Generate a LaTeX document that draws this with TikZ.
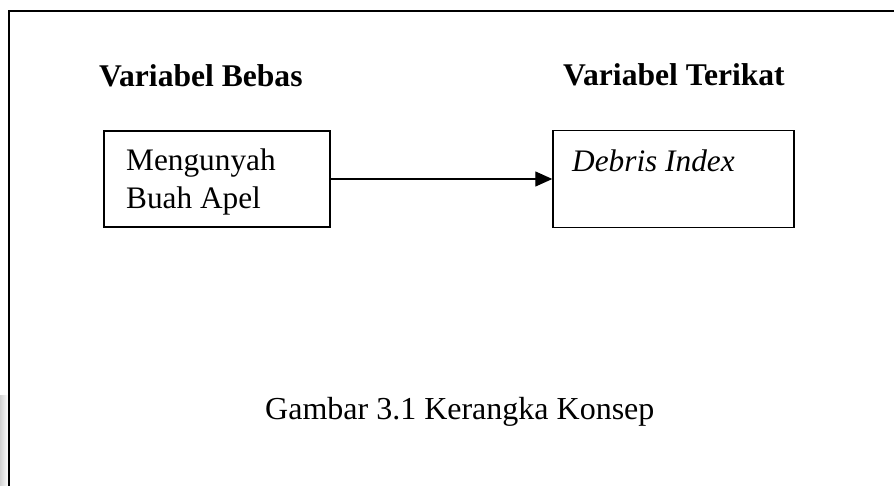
\documentclass[tikz,border=0pt]{standalone}
\usepackage{fontspec}
\setmainfont{Liberation Serif}
\usetikzlibrary{arrows.meta}
\begin{document}
\begin{tikzpicture}[x=1pt,y=-1pt,
  box/.style={draw=black,line width=1.4pt,minimum width=#1,inner sep=0pt},
  head/.style={anchor=base west,inner sep=0pt,font=\fontsize{31.6}{37}\selectfont\bfseries},
  txt/.style={anchor=base west,inner sep=0pt,font=\fontsize{31.3}{38}\selectfont},
  conn/.style={line width=1.2pt,-{Triangle[length=17pt,width=15pt]}}]
\useasboundingbox (0,0) rectangle (894,486);
\shade[left color=gray!35,right color=white] (0,395) rectangle (8,486);
\coordinate (frTR) at (894,11);
\coordinate (frTL) at (9,11);
\coordinate (frBL) at (9,486);
\draw[line width=1.8pt] (frTR) -- (frTL) -- (frBL);
\node[head] (hb) at (99,87) {Variabel Bebas};
\node[head] (ht) at (563,86) {Variabel Terikat};
\node[box=226pt,minimum height=96pt] (bx1) at (217,179) {};
\node[box=241pt,minimum height=97pt] (bx2) at (673.5,179) {};
\node[txt] (t1) at (126,171) {Mengunyah};
\node[txt] (t2) at (126,209) {Buah Apel};
\node[txt,font=\fontsize{31.3}{38}\selectfont\itshape] (t3) at (572,172) {Debris Index};
\draw[conn] (bx1.east) -- (bx2.west);
\node[txt,font=\fontsize{32}{38}\selectfont] (cap) at (265,419) {Gambar 3.1 Kerangka Konsep};
\end{tikzpicture}
\end{document}
